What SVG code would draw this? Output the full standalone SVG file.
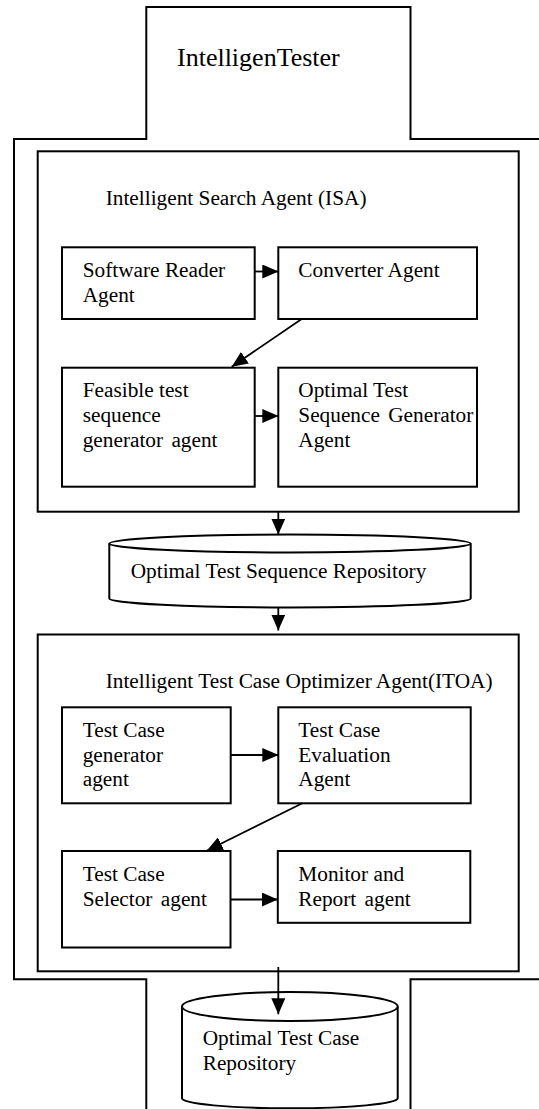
<svg xmlns="http://www.w3.org/2000/svg" width="539" height="1109" viewBox="0 0 539 1109">
<style>
.box{fill:#fff;stroke:#000;stroke-width:2}
.frame{fill:none;stroke:#000;stroke-width:2}
.t{font-family:"Liberation Serif","Times New Roman",serif;font-size:21.3px;fill:#000}
.title{font-family:"Liberation Serif","Times New Roman",serif;font-size:26px;fill:#000}
.conn{fill:none;stroke:#000;stroke-width:1.8}
</style>
<defs>
<marker id="ah" markerUnits="userSpaceOnUse" markerWidth="16" markerHeight="14" refX="16" refY="7" orient="auto">
<path d="M0,0 L16,7 L0,14 Z" fill="#000"/>
</marker>
</defs>
<rect width="539" height="1109" fill="#fff"/>
<g id="intelligentester">
<path class="frame" d="M146.3,1115 V979.3 H14 V139 H146.3 V7 H410.5 V139 H545 M545,979.3 H410.5 V1115"/>
<text class="title" x="177" y="66">IntelligenTester</text>
</g>
<g id="isa">
<rect class="box" x="37.7" y="151.3" width="481" height="360.4"/>
<text class="t" x="105.7" y="205">Intelligent Search Agent (ISA)</text>
</g>
<g id="software-reader">
<rect class="box" x="62" y="247.3" width="192.7" height="71.7"/>
<text class="t" x="82.7" y="277.3">Software Reader<tspan x="82.7" y="301.7">Agent</tspan></text>
</g>
<g id="converter">
<rect class="box" x="278.3" y="247.3" width="198.7" height="71.7"/>
<text class="t" x="298.3" y="277.3">Converter Agent</text>
</g>
<g id="feasible">
<rect class="box" x="62" y="367.7" width="192.7" height="119"/>
<text class="t" x="82.7" y="396.7">Feasible test<tspan x="82.7" y="421.7">sequence</tspan><tspan x="82.7" y="446.7" word-spacing="3">generator agent</tspan></text>
</g>
<g id="optimal-generator">
<rect class="box" x="278.3" y="367.7" width="198.7" height="119"/>
<text class="t" x="298.3" y="396.7">Optimal Test<tspan x="298.3" y="421.7" word-spacing="3">Sequence Generator</tspan><tspan x="298.3" y="446.7">Agent</tspan></text>
</g>
<g id="sequence-repository">
<path class="box" d="M109.3,543.5 V598.5 A180.7,9 0 0,0 470.7,598.5 V543.5"/>
<ellipse class="box" cx="290" cy="543.5" rx="180.7" ry="9"/>
<text class="t" x="130.7" y="578.3">Optimal Test Sequence Repository</text>
</g>
<g id="itoa">
<rect class="box" x="37.7" y="634.5" width="481" height="336.8"/>
<text class="t" x="105.7" y="688.3">Intelligent Test Case Optimizer Agent(ITOA)</text>
</g>
<g id="tc-generator">
<rect class="box" x="62" y="707.3" width="168.7" height="96"/>
<text class="t" x="82.7" y="736.7">Test Case<tspan x="82.7" y="761.7">generator</tspan><tspan x="82.7" y="786.3">agent</tspan></text>
</g>
<g id="tc-evaluation">
<rect class="box" x="278.3" y="707.3" width="192.4" height="96"/>
<text class="t" x="298.3" y="736.7">Test Case<tspan x="298.3" y="761.7">Evaluation</tspan><tspan x="298.3" y="786.3">Agent</tspan></text>
</g>
<g id="tc-selector">
<rect class="box" x="62" y="851" width="168.5" height="96.5"/>
<text class="t" x="82.7" y="880.7">Test Case<tspan x="82.7" y="905.8" word-spacing="3">Selector agent</tspan></text>
</g>
<g id="monitor">
<rect class="box" x="277.8" y="851" width="192.5" height="71.8"/>
<text class="t" x="298.3" y="880.7">Monitor and<tspan x="298.3" y="905.8" word-spacing="3">Report agent</tspan></text>
</g>
<g id="case-repository">
<path class="box" d="M182,1006.5 V1098.3 A107.85,10 0 0,0 397.7,1098.3 V1006.5"/>
<ellipse class="box" cx="289.85" cy="1006.5" rx="107.85" ry="14.5"/>
<text class="t" x="202.7" y="1045">Optimal Test Case<tspan x="202.7" y="1070">Repository</tspan></text>
</g>
<g id="connectors">
<line class="conn" x1="254.7" y1="271.5" x2="278.3" y2="271.5" marker-end="url(#ah)"/>
<line class="conn" x1="301.7" y1="319" x2="231.7" y2="366.7" marker-end="url(#ah)"/>
<line class="conn" x1="254.7" y1="416" x2="278.3" y2="416" marker-end="url(#ah)"/>
<line class="conn" x1="278.3" y1="511.7" x2="278.3" y2="534.5" marker-end="url(#ah)"/>
<line class="conn" x1="278.3" y1="607.5" x2="278.3" y2="630.5" marker-end="url(#ah)"/>
<line class="conn" x1="230.7" y1="755" x2="278.3" y2="755" marker-end="url(#ah)"/>
<line class="conn" x1="302.3" y1="803.3" x2="206.7" y2="850.7" marker-end="url(#ah)"/>
<line class="conn" x1="230.5" y1="899.5" x2="277.8" y2="899.5" marker-end="url(#ah)"/>
<line class="conn" x1="278.3" y1="967" x2="278.3" y2="1014.3" marker-end="url(#ah)"/>
</g>
</svg>
